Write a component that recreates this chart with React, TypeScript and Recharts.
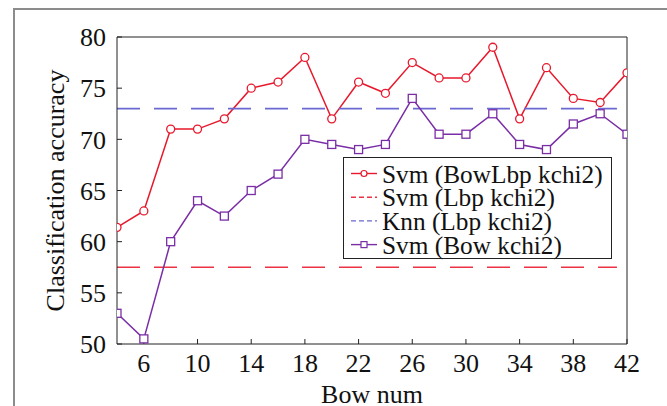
import React from 'react';
import { LineChart, Line, XAxis, YAxis, ReferenceLine, Legend } from 'recharts';

const bowNum = [4, 6, 8, 10, 12, 14, 16, 18, 20, 22, 24, 26, 28, 30, 32, 34, 36, 38, 40, 42];
const svmBowLbp = [61.4, 63, 71, 71, 72, 75, 75.6, 78, 72, 75.6, 74.5, 77.5, 76, 76, 79, 72, 77, 74, 73.6, 76.5];
const svmBow = [53, 50.5, 60, 64, 62.5, 65, 66.6, 70, 69.5, 69, 69.5, 74, 70.5, 70.5, 72.5, 69.5, 69, 71.5, 72.5, 70.5];
const svmLbpLevel = 57.5;
const knnLbpLevel = 73;
const dashedStart = 4;
const dashedEnd = 41.25;
const xTicks = [6, 10, 14, 18, 22, 26, 30, 34, 38, 42];
const yTicks = [50, 55, 60, 65, 70, 75, 80];
const legendLabels = ['Svm (BowLbp kchi2)', 'Svm (Lbp kchi2)', 'Knn (Lbp kchi2)', 'Svm (Bow kchi2)'];

const data = bowNum.map((x, i) => ({ x, bowLbp: svmBowLbp[i], bow: svmBow[i] }));

const RED = '#e8182c';
const RED_DASH = '#ec3344';
const BLUE_DASH = '#6a68d2';
const PURPLE = '#7a2ea6';
const AXIS = '#222';
const FONT = '"Liberation Serif", "Times New Roman", serif';
const FS = 26;
const LEGEND_FS = 25.3;

const SquareDot = (props: any) => {
  const { cx, cy } = props;
  if (cx == null || cy == null) return null;
  return <rect x={cx - 4} y={cy - 4} width={8} height={8} fill="#fff" stroke={PURPLE} strokeWidth={1.3} />;
};

const LegendBox = () => {
  const rowY = [17, 40.7, 64.4, 88.1];
  const kinds = ['circle', 'redDash', 'blueDash', 'square'];
  return (
    <div style={{ width: 269, height: 102, border: '1.5px solid #222', boxSizing: 'border-box', background: '#fff' }}>
      <svg width={266} height={99} style={{ display: 'block', overflow: 'visible' }}>
        {legendLabels.map((lab, i) => {
          const y = rowY[i] - 1.5;
          const k = kinds[i];
          return (
            <g key={lab}>
              {k === 'circle' && (
                <g>
                  <line x1={7} x2={33} y1={y} y2={y} stroke={RED} strokeWidth={1.4} />
                  <circle cx={20} cy={y} r={3} fill="#fff" stroke={RED} strokeWidth={1.2} />
                </g>
              )}
              {k === 'redDash' && <line x1={7} x2={33} y1={y} y2={y} stroke={RED_DASH} strokeWidth={1.4} strokeDasharray="5 3" />}
              {k === 'blueDash' && <line x1={7} x2={33} y1={y} y2={y} stroke={BLUE_DASH} strokeWidth={1.4} strokeDasharray="5 3" />}
              {k === 'square' && (
                <g>
                  <line x1={7} x2={33} y1={y} y2={y} stroke={PURPLE} strokeWidth={1.4} />
                  <rect x={17} y={y - 3} width={6} height={6} fill="#fff" stroke={PURPLE} strokeWidth={1.2} />
                </g>
              )}
              <text x={38} y={y} dominantBaseline="central" fontSize={LEGEND_FS} fontFamily={FONT} fill="#111">{lab}</text>
            </g>
          );
        })}
      </svg>
    </div>
  );
};

export default function App() {
  const tickStyle = { fill: '#111', fontSize: FS, fontFamily: FONT };
  return (
    <div style={{ position: 'absolute', left: 0, top: 0, width: 667, height: 406, overflow: 'hidden', background: '#fff' }}>
      <div style={{ position: 'absolute', left: 13, top: 8, width: 660, height: 410, borderLeft: '2px solid #8c8c8c', borderTop: '2px solid #8c8c8c' }} />
      <div style={{ position: 'absolute', left: 0, top: 0 }}>
        <LineChart width={667} height={406} data={data} margin={{ top: 32, right: 35, bottom: 12, left: 0 }}>
          <XAxis
            dataKey="x"
            type="number"
            domain={[4, 42]}
            ticks={xTicks}
            tickSize={-5}
            tickMargin={15}
            height={50}
            stroke={AXIS}
            tick={tickStyle}
            allowDataOverflow
            label={{ value: 'Bow num', position: 'center', dy: 25, style: { fill: '#111', fontSize: FS, fontFamily: FONT } }}
          />
          <XAxis
            xAxisId="top"
            orientation="top"
            dataKey="x"
            type="number"
            domain={[4, 42]}
            ticks={xTicks}
            tickSize={-5}
            tick={false}
            height={5}
            stroke={AXIS}
            allowDataOverflow
          />
          <YAxis
            type="number"
            domain={[50, 80]}
            ticks={yTicks}
            tickSize={-5}
            tickMargin={16}
            width={117}
            stroke={AXIS}
            tick={tickStyle}
            allowDataOverflow
            label={{ value: 'Classification accuracy', angle: -90, position: 'center', dx: -4, style: { fill: '#111', fontSize: FS, fontFamily: FONT, textAnchor: 'middle' } }}
          />
          <YAxis
            yAxisId="right"
            orientation="right"
            type="number"
            domain={[50, 80]}
            ticks={yTicks}
            tickSize={-5}
            tick={false}
            width={5}
            stroke={AXIS}
            allowDataOverflow
          />
          <Line
            dataKey="bowLbp"
            stroke={RED}
            strokeWidth={1.5}
            dot={{ r: 4, fill: '#fff', stroke: RED, strokeWidth: 1.3 }}
            activeDot={false}
            isAnimationActive={false}
          />
          <ReferenceLine
            segment={[{ x: dashedStart, y: svmLbpLevel }, { x: dashedEnd, y: svmLbpLevel }]}
            stroke={RED_DASH}
            strokeWidth={1.6}
            strokeDasharray="23 14"
          />
          <ReferenceLine
            segment={[{ x: dashedStart, y: knnLbpLevel }, { x: dashedEnd, y: knnLbpLevel }]}
            stroke={BLUE_DASH}
            strokeWidth={1.6}
            strokeDasharray="23 14"
          />
          <Line
            dataKey="bow"
            stroke={PURPLE}
            strokeWidth={1.5}
            dot={(p: any) => <SquareDot key={`sq-${p.index}`} {...p} />}
            activeDot={false}
            isAnimationActive={false}
          />
          <Legend
            layout="vertical"
            align="center"
            verticalAlign="middle"
            wrapperStyle={{ left: 343, top: 157, width: 269, height: 102 }}
            content={() => <LegendBox />}
          />
        </LineChart>
      </div>
    </div>
  );
}
